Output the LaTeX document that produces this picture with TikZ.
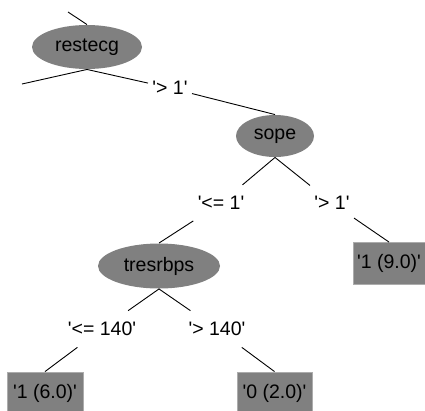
\documentclass[tikz,border=0pt]{standalone}
\usepackage{fontspec}
\setmainfont{Liberation Sans}[Ligatures=TeXOff]
\usetikzlibrary{shapes.geometric}
\definecolor{nodegray}{RGB}{128,128,128}
\tikzset{
  split/.style={ellipse,fill=nodegray,minimum height=44pt,inner sep=0pt},
  leaf/.style={rectangle,fill=nodegray,draw=gray!65,minimum height=42pt,inner sep=0pt},
  cond/.style={inner xsep=4pt,inner ysep=11pt},
}
\begin{document}
\begin{tikzpicture}[x=1pt,y=-1pt,font=\fontsize{19.5}{22}\selectfont,line width=0.9pt]
  \useasboundingbox (0,0) rectangle (425,410);
  % inner nodes
  \node[split,minimum width=110pt] (restecg) at (87,47) {restecg};
  \node[split,minimum width=78pt,minimum height=42pt] (sope) at (275,136) {sope};
  \node[split,minimum width=122pt,minimum height=45pt] (tresrbps) at (159,266) {tresrbps};
  % leaves
  \node[leaf,minimum width=72pt] (leafA) at (389,263.5) {'1 (9.0)'};
  \node[leaf,minimum width=76pt] (leafB) at (45,393) {'1 (6.0)'};
  \node[leaf,minimum width=75pt] (leafC) at (274.5,393) {'0 (2.0)'};
  % branch labels
  \node[cond] (cA) at (170,88) {'> 1'};
  \node[cond] (cB) at (221,203) {'<= 1'};
  \node[cond] (cC) at (332,203) {'> 1'};
  \node[cond] (cD) at (102,329) {'<= 140'};
  \node[cond] (cE) at (217,329) {'> 140'};
  %
  \coordinate (up) at (68,12);
  \coordinate (lft) at (22,84);
  \draw (up) -- (restecg.north);
  \draw (restecg.south) -- (lft);
  \draw (restecg.south) -- (cA) -- (sope.north);
  \draw (sope.south) -- (cB) -- (tresrbps.north);
  \draw (sope.south) -- (cC) -- (leafA.north);
  \draw (tresrbps.south) -- (cD) -- (leafB.north);
  \draw (tresrbps.south) -- (cE) -- (leafC.north);
\end{tikzpicture}
\end{document}
